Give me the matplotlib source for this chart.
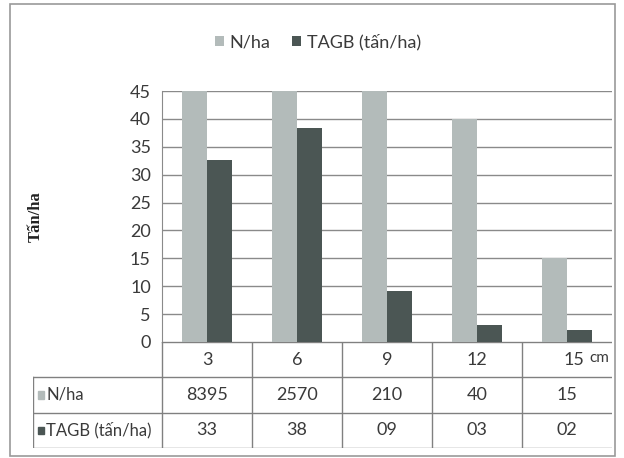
import matplotlib.pyplot as plt
from matplotlib.patches import Rectangle
import numpy as np

# data
categories = ["3", "6", "9", "12", "15"]
n_ha = [8395, 2570, 210, 40, 15]            # N/ha, clipped at 45 by the axis
tagb = [32.7, 38.3, 9.1, 3.1, 2.2]          # TAGB (tan/ha) bar heights
n_labels = ["8395", "2570", "210", "40", "15"]
tagb_labels = ["33", "38", "09", "03", "02"]
yticks = [0, 5, 10, 15, 20, 25, 30, 35, 40, 45]

light = "#b3bbba"
dark = "#4b5654"
txt = "#3a3a3a"
grid = "#8a8a8a"

plt.rcParams['font.family'] = ['Lato', 'DejaVu Sans']

W, H = 624, 458
fig = plt.figure(figsize=(W / 100, H / 100), dpi=100)
fig.patch.set_facecolor("white")

# outer frame of the chart
fig.add_artist(Rectangle((10 / W, 2 / H), 605 / W, 452 / H, transform=fig.transFigure,
                         fill=False, edgecolor="#9a9a9a", lw=1.2))

# main bar axes
ax = fig.add_axes([162 / W, (H - 342) / H, 450 / W, (342 - 91) / H])
x = np.arange(len(categories))
w = 0.28
ax.bar(x - 0.14, n_ha, w, color=light, label="N/ha", zorder=3)
ax.bar(x + 0.14, tagb, w, color=dark, label="TAGB (tấn/ha)", zorder=3)
ax.set_xlim(-0.5, 4.5)
ax.set_ylim(0, 45)
ax.set_yticks(yticks)
ax.yaxis.grid(True, color=grid, lw=1.0, zorder=0)
ax.set_xticks([])
ax.tick_params(axis='y', length=0, labelsize=13, labelcolor=txt, pad=8)
for s in ["top", "right", "bottom"]:
    ax.spines[s].set_visible(False)
ax.spines["left"].set_color(grid)
ax.set_ylabel("Tấn/ha", family=['Liberation Serif', 'DejaVu Serif'], fontweight="bold",
              fontsize=12, color="#222222", labelpad=62)

fig.legend(loc="center", bbox_to_anchor=(318 / W, 1 - 42 / H), ncol=2, frameon=False,
           fontsize=13, handlelength=0.5, handleheight=0.5, handletextpad=0.3,
           columnspacing=1.2, labelcolor=txt)

# data table under the chart
tax = fig.add_axes([33 / W, (H - 448) / H, 579 / W, 106 / H])
left = -0.5 - 129 / 90
tax.set_xlim(left, 4.5)
tax.set_ylim(3, 0)
tax.axis("off")
lc = "#808080"
tax.plot([-0.5, 4.5], [0, 0], color=lc, lw=1)
for yy in [1, 2, 3]:
    tax.plot([left, 4.5], [yy, yy], color=lc, lw=1)
tax.plot([left, left], [1, 3], color=lc, lw=1)
for xx in np.arange(-0.5, 4.0, 1.0):
    tax.plot([xx, xx], [0, 3], color=lc, lw=1)

for i, c in enumerate(categories):
    hx = i + 0.08 if i == len(categories) - 1 else i
    tax.text(hx, 0.5, c, ha="center", va="center", fontsize=13, color=txt)
    tax.text(i, 1.5, n_labels[i], ha="center", va="center", fontsize=13, color=txt)
    tax.text(i, 2.5, tagb_labels[i], ha="center", va="center", fontsize=13, color=txt)
tax.text(4.25, 0.45, "cm", ha="left", va="center", fontsize=11, color=txt)

for row, (name, col) in enumerate([("N/ha", light), ("TAGB (tấn/ha)", dark)]):
    tax.add_patch(Rectangle((left + 0.05, row + 1.4), 0.075, 0.2, color=col))
    tax.text(left + 0.15, row + 1.5, name, ha="left", va="center", fontsize=12, color=txt)

fig.savefig("out.png", dpi=100)
